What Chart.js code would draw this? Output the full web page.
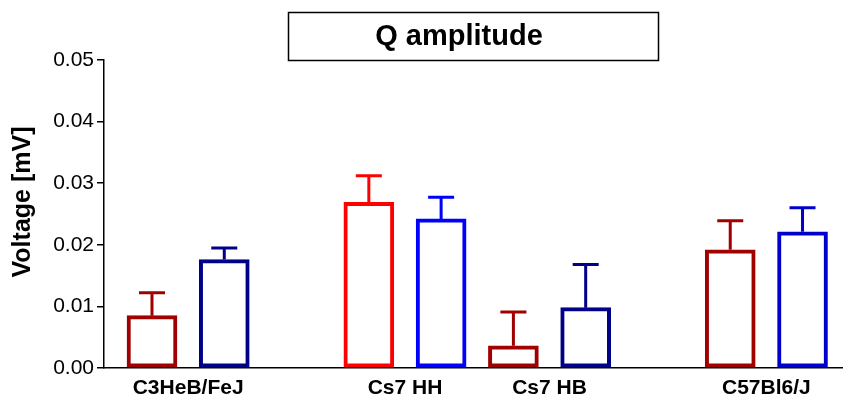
<!DOCTYPE html>
<html>
<head>
<meta charset="utf-8">
<script src="https://cdn.jsdelivr.net/npm/chart.js@4"></script>
<style>
  html, body { margin: 0; padding: 0; background: #fff; }
  #wrap { width: 843px; height: 398px; }
</style>
</head>
<body>
<div id="wrap"><canvas id="chart"></canvas></div>
<script>
// groups and their label positions on the x axis
const groupLabels = ['C3HeB/FeJ', 'Cs7 HH', 'Cs7 HB', 'C57Bl6/J']
const groupCenters = [0.5, 3.5, 5.5, 8.5]

// one entry per bar
const barPositions = [0, 1, 3, 4, 5, 6, 8, 9]
const barMeans = [0.0085, 0.0176, 0.0269, 0.0242, 0.0036, 0.0098, 0.0192, 0.0221]
const barErrors = [0.0037, 0.0019, 0.0043, 0.0035, 0.0055, 0.0070, 0.0047, 0.0039]
const barColors = ['#a00000', '#000088', '#ff0000', '#0000ff', '#a00000', '#000088', '#a00000', '#0000cc']

const yTicks = [0, 0.01, 0.02, 0.03, 0.04, 0.05]

const FONT = "'Liberation Sans', Arial, sans-serif"

const errorBars = {
    id: 'errorBars',
    afterDatasetsDraw(chart) {
        const { ctx, scales: { x, y } } = chart
        ctx.save()
        ctx.lineWidth = 3
        barPositions.forEach((p, i) => {
            const cx = x.getPixelForValue(p)
            const y0 = y.getPixelForValue(barMeans[i])
            const y1 = y.getPixelForValue(barMeans[i] + barErrors[i])
            ctx.strokeStyle = barColors[i]
            ctx.beginPath()
            ctx.moveTo(cx, y0)
            ctx.lineTo(cx, y1)
            ctx.moveTo(cx - 13, y1)
            ctx.lineTo(cx + 13, y1)
            ctx.stroke()
        })
        ctx.restore()
    }
}

const decorations = {
    id: 'decorations',
    afterDraw(chart) {
        const ctx = chart.ctx
        ctx.save()
        // boxed title
        ctx.strokeStyle = '#000'
        ctx.lineWidth = 1.5
        ctx.strokeRect(288.5, 12.5, 370, 48)
        ctx.fillStyle = '#000'
        ctx.font = 'bold 29px ' + FONT
        ctx.textAlign = 'center'
        ctx.textBaseline = 'middle'
        ctx.fillText('Q amplitude', 459, 37)
        // y axis title
        ctx.translate(23, 202)
        ctx.rotate(-Math.PI / 2)
        ctx.font = 'bold 25px ' + FONT
        ctx.fillText('Voltage [mV]', 0, 0)
        ctx.restore()
    }
}

const ctx = document.getElementById('chart')
new Chart(ctx, {
    type: 'bar',
    data: {
        datasets: [{
            data: barPositions.map((p, i) => ({ x: p, y: barMeans[i] })),
            backgroundColor: '#ffffff',
            borderColor: barColors,
            borderWidth: 4,
            borderSkipped: false,
            barThickness: 50
        }]
    },
    options: {
        responsive: true,
        maintainAspectRatio: false,
        animation: false,
        layout: { padding: { left: 0, right: 0, top: 60, bottom: 0 } },
        plugins: {
            legend: { display: false },
            tooltip: { enabled: false }
        },
        scales: {
            x: {
                type: 'linear',
                offset: false,
                min: -0.664,
                max: 9.56,
                afterBuildTicks: s => { s.ticks = groupCenters.map(v => ({ value: v })) },
                afterFit: s => { s.height = 30 },
                ticks: {
                    autoSkip: false,
                    maxRotation: 0,
                    padding: 0,
                    color: '#000',
                    font: { family: FONT, size: 21, weight: 'bold' },
                    callback: v => groupLabels[groupCenters.indexOf(v)]
                },
                grid: { display: false, offset: false },
                border: { color: '#000', width: 1.5 }
            },
            y: {
                min: 0,
                max: 0.05,
                afterBuildTicks: s => { s.ticks = yTicks.map(v => ({ value: v })) },
                afterFit: s => { s.width = 104 },
                ticks: {
                    padding: 3,
                    color: '#000',
                    font: { family: FONT, size: 21 },
                    callback: v => v.toFixed(2)
                },
                grid: { drawOnChartArea: false, tickLength: 7, color: '#000', lineWidth: 1.5 },
                border: { color: '#000', width: 1.5 }
            }
        }
    },
    plugins: [errorBars, decorations]
})
</script>
</body>
</html>
